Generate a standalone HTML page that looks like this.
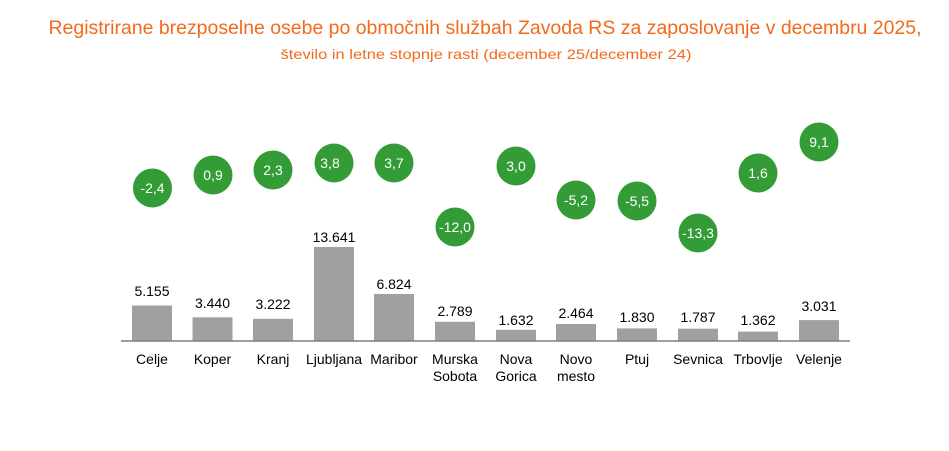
<!DOCTYPE html>
<html><head><meta charset="utf-8"><style>
html,body{margin:0;padding:0;background:#fff;width:949px;height:451px;overflow:hidden}
</style></head><body>
<svg width="949" height="451" viewBox="0 0 949 451" xmlns="http://www.w3.org/2000/svg" font-family="Liberation Sans, sans-serif">
<text x="485" y="34" text-anchor="middle" font-size="19" fill="#f26a1b" textLength="873" lengthAdjust="spacingAndGlyphs">Registrirane brezposelne osebe po območnih službah Zavoda RS za zaposlovanje v decembru 2025,</text>
<text x="486" y="59" text-anchor="middle" font-size="14" fill="#f26a1b" textLength="411" lengthAdjust="spacingAndGlyphs">število in letne stopnje rasti (december 25/december 24)</text>
<g fill="#a0a0a0">
<rect x="132" y="305.5" width="40" height="35.5"/>
<rect x="192.5" y="317.3" width="40" height="23.7"/>
<rect x="253" y="318.8" width="40" height="22.2"/>
<rect x="314" y="247" width="40" height="94"/>
<rect x="374" y="294" width="40" height="47"/>
<rect x="435" y="321.8" width="40" height="19.2"/>
<rect x="496" y="329.8" width="40" height="11.2"/>
<rect x="556" y="324" width="40" height="17"/>
<rect x="617" y="328.4" width="40" height="12.6"/>
<rect x="678" y="328.7" width="40" height="12.3"/>
<rect x="738" y="331.6" width="40" height="9.4"/>
<rect x="799" y="320.1" width="40" height="20.9"/>
</g>
<line x1="121" y1="341" x2="850" y2="341" stroke="#7f7f7f" stroke-width="1.5"/>
<g font-size="14" fill="#000" text-anchor="middle">
<text x="152" y="296">5.155</text>
<text x="212.5" y="308">3.440</text>
<text x="273" y="309">3.222</text>
<text x="334" y="242">13.641</text>
<text x="394" y="289">6.824</text>
<text x="455" y="316">2.789</text>
<text x="516" y="325">1.632</text>
<text x="576" y="318">2.464</text>
<text x="637" y="322">1.830</text>
<text x="698" y="322">1.787</text>
<text x="758" y="325">1.362</text>
<text x="819" y="311">3.031</text>
<text x="152" y="364">Celje</text>
<text x="212.5" y="364">Koper</text>
<text x="273" y="364">Kranj</text>
<text x="334" y="364">Ljubljana</text>
<text x="394" y="364">Maribor</text>
<text x="455" y="364">Murska</text>
<text x="455" y="381">Sobota</text>
<text x="516" y="364">Nova</text>
<text x="516" y="381">Gorica</text>
<text x="576" y="364">Novo</text>
<text x="576" y="381">mesto</text>
<text x="637" y="364">Ptuj</text>
<text x="698" y="364">Sevnica</text>
<text x="758" y="364">Trbovlje</text>
<text x="819" y="364">Velenje</text>
</g>
<g fill="#339c37">
<circle cx="152.5" cy="188" r="19.5"/>
<circle cx="213" cy="175" r="19.5"/>
<circle cx="273" cy="170" r="19.5"/>
<circle cx="334" cy="163" r="19.5"/>
<circle cx="394" cy="163" r="19.5"/>
<circle cx="455" cy="227" r="19.5"/>
<circle cx="516" cy="166" r="19.5"/>
<circle cx="576" cy="200" r="19.5"/>
<circle cx="637" cy="201" r="19.5"/>
<circle cx="698" cy="233" r="19.5"/>
<circle cx="758" cy="173" r="19.5"/>
<circle cx="819" cy="142" r="19.5"/>
</g>
<g font-size="14" fill="#fff" text-anchor="middle">
<text x="152.5" y="193">-2,4</text>
<text x="213" y="180">0,9</text>
<text x="273" y="175">2,3</text>
<text x="330" y="168">3,8</text>
<text x="394" y="168">3,7</text>
<text x="455" y="232">-12,0</text>
<text x="516" y="171">3,0</text>
<text x="576" y="205">-5,2</text>
<text x="637" y="206">-5,5</text>
<text x="698" y="238">-13,3</text>
<text x="758" y="178">1,6</text>
<text x="819" y="147">9,1</text>
</g>
</svg>
</body></html>
